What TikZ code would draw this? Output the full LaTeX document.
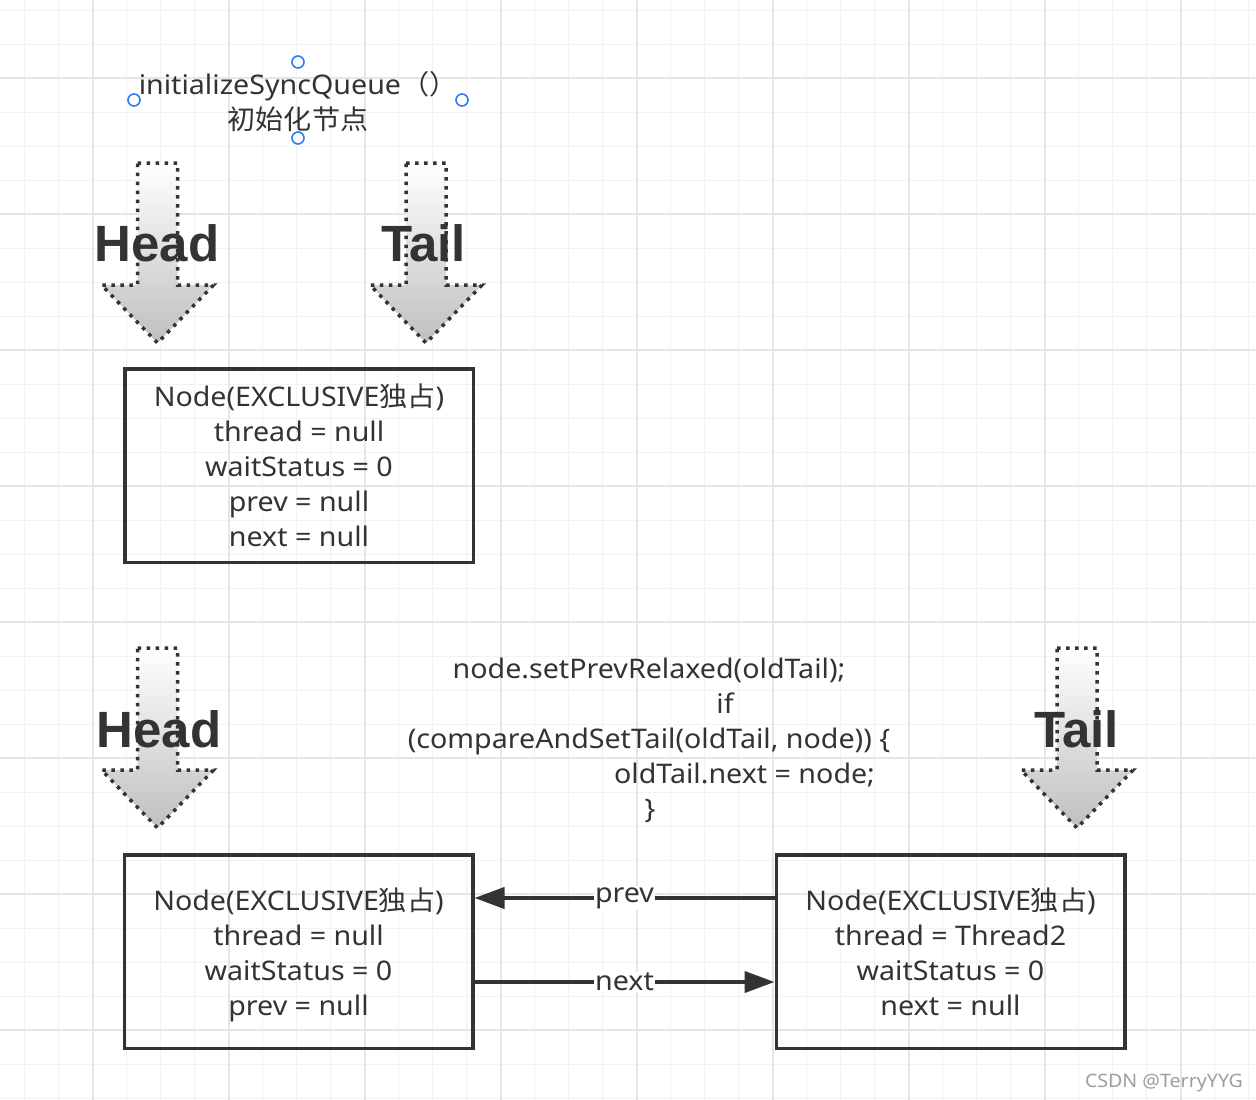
\documentclass[tikz,border=0pt]{standalone}
\usepackage{fontspec}
\setmainfont{Noto Sans}[FakeStretch=1.06]
\newfontfamily\cjk{Noto Sans CJK SC}[FakeStretch=1.04]
\newfontfamily\headfont{Liberation Sans}
\usetikzlibrary{arrows.meta}
\definecolor{ink}{HTML}{333333}
\definecolor{gridminor}{HTML}{F2F2F2}
\definecolor{gridmajor}{HTML}{E6E6E6}
\definecolor{handle}{HTML}{2F7BF5}
\newcommand\fatdownarrow[2]{%
  \begin{scope}[shift={(#1,#2)}]
    \shadedraw[top color=white, middle color=gray!12, bottom color=gray!50,
      draw=ink, line width=3.5pt, dash pattern=on 3.5pt off 5.5pt, line join=miter]
      (-20,0) -- (20,0) -- (20,122) -- (56,122) -- (0,180) -- (-56,122) -- (-20,122) -- cycle;
  \end{scope}}
\begin{document}
\begin{tikzpicture}[x=1pt,y=-1pt,
  nodebox/.style={draw=ink, line width=3.5pt, minimum width=348.5pt, minimum height=193.5pt,
    align=center, font=\fontsize{27}{35}\selectfont, text=ink, inner sep=0pt},
  biglabel/.style={font=\headfont\fontsize{51}{60}\selectfont\bfseries, text=ink, anchor=base, inner sep=0pt},
  codeline/.style={font=\fontsize{27}{35}\selectfont, text=ink, anchor=base, inner sep=0pt},
  conn/.style={draw=ink, line width=4pt, -{Triangle[length=30pt,width=21pt]}},
  lbl/.style={fill=white, inner sep=1pt, font=\fontsize{27}{35}\selectfont, text=ink},
  handlept/.style={circle, draw=handle, fill=white, line width=1.6pt, minimum size=12pt, inner sep=0pt}]
\useasboundingbox (0,0) rectangle (1256,1100);
\fill[white] (0,0) rectangle (1256,1100);
% grid
\foreach \i in {0,...,36} {\draw[gridminor, line width=1.2pt] (24.7+34*\i,0) -- (24.7+34*\i,1100);}
\foreach \i in {0,...,32} {\draw[gridminor, line width=1.2pt] (0,10.3+34*\i) -- (1256,10.3+34*\i);}
\foreach \i in {0,...,8} {\draw[gridmajor, line width=2pt] (92.7+136*\i,0) -- (92.7+136*\i,1100);}
\foreach \i in {0,...,7} {\draw[gridmajor, line width=2pt] (0,78.3+136*\i) -- (1256,78.3+136*\i);}
% title
\node[align=center, font=\fontsize{27}{35}\selectfont, text=ink, inner sep=0pt] (title) at (298,102)
  {initializeSyncQueue{\cjk （）}\\{\cjk 初始化节点}};
\node[handlept] (h1) at (298,62) {};
\node[handlept] (h2) at (134,100) {};
\node[handlept] (h3) at (462,100) {};
\node[handlept] (h4) at (298,138) {};
% arrows
\fatdownarrow{157.5}{163}
\fatdownarrow{426}{163}
\fatdownarrow{157.5}{648}
\fatdownarrow{1077}{648}
\node[biglabel] (head1) at (157,261) {Head};
\node[biglabel] (tail1) at (424,261) {Tail};
\node[biglabel] (head2) at (159,747) {Head};
\node[biglabel] (tail2) at (1077,747) {Tail};
% boxes
\node[nodebox] (b1) at (299,465.5) {Node(EXCLUSIVE{\cjk 独占})\\thread = null\\waitStatus = 0\\prev = null\\next = null};
\node[nodebox] (b2) at (298.5,951.5) {Node(EXCLUSIVE{\cjk 独占})\\thread = null\\waitStatus = 0\\\raisebox{0pt}[\height][0pt]{prev = null}};
\node[nodebox] (b3) at (950.5,951.5) {Node(EXCLUSIVE{\cjk 独占})\\thread = Thread2\\waitStatus = 0\\next = null};
% code
\node[codeline] (c1) at (649,678) {node.setPrevRelaxed(oldTail);};
\node[codeline] (c2) at (725,713) {if};
\node[codeline] (c3) at (649,748) {(compareAndSetTail(oldTail, node)) \{};
\node[codeline] (c4) at (744.5,783) {oldTail.next = node;};
\node[codeline] (c5) at (650,818) {\}};
% connectors
\draw[conn] ([yshift=53.5pt]b3.west) -- node[lbl] {prev} ([yshift=53.5pt]b2.east);
\draw[conn] ([yshift=-30.5pt]b2.east) -- node[lbl] {next} ([yshift=-30.5pt]b3.west);
% watermark
\node[anchor=base, font=\fontsize{18.5}{22}\selectfont, text=black!38, inner sep=0pt] (wm) at (1164,1087) {CSDN @TerryYYG};
\end{tikzpicture}
\end{document}
